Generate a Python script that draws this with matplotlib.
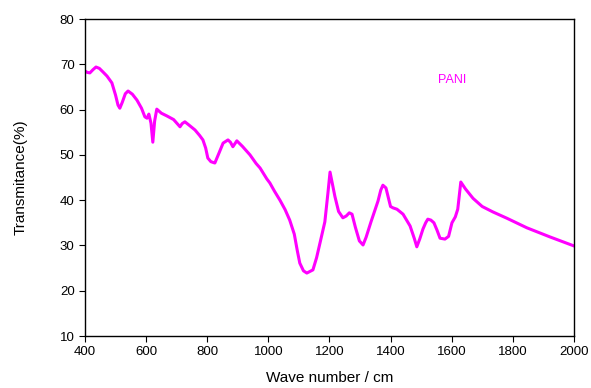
import matplotlib.pyplot as plt
import numpy as np

plt.rcParams['font.family'] = ['Liberation Sans', 'DejaVu Sans']

# PANI FTIR spectrum
wavenumber = [400, 408, 416, 426, 436, 447, 459, 472, 488, 500, 508, 514, 522,
              532, 541, 555, 570, 585, 596, 603, 609, 616, 622, 628, 635, 650,
              668, 690, 711, 718, 727, 740, 760, 775, 786, 795, 802, 812, 825,
              838, 852, 868, 876, 884, 897, 915, 940, 960, 973, 995, 1005, 1020,
              1038, 1055, 1070, 1085, 1095, 1103, 1115, 1126, 1146, 1158, 1169,
              1185, 1195, 1202, 1210, 1218, 1230, 1244, 1255, 1265, 1274, 1285,
              1298, 1310, 1320, 1336, 1359, 1368, 1375, 1385, 1393, 1400, 1408,
              1421, 1441, 1464, 1478, 1486, 1496, 1506, 1515, 1522, 1532, 1542,
              1552, 1562, 1578, 1590, 1601, 1612, 1620, 1630, 1645, 1670, 1700,
              1735, 1781, 1846, 1921, 2000]
transmittance = [68.5, 68.2, 68.1, 68.8, 69.4, 69.1, 68.3, 67.4, 65.9, 63.2,
                 61.0, 60.3, 61.6, 63.5, 64.1, 63.4, 62.1, 60.3, 58.4, 58.1,
                 59.0, 57.0, 52.8, 57.5, 60.1, 59.2, 58.6, 57.8, 56.2, 56.9,
                 57.3, 56.6, 55.5, 54.3, 53.3, 51.5, 49.3, 48.5, 48.2, 50.3,
                 52.6, 53.3, 52.8, 51.8, 53.1, 51.9, 50.0, 48.1, 47.1, 44.7,
                 43.8, 42.0, 40.0, 37.9, 35.6, 32.5, 28.8, 26.1, 24.4, 23.9,
                 24.6, 27.3, 30.5, 35.2, 41.5, 46.2, 43.5, 40.8, 37.5, 36.1,
                 36.5, 37.2, 36.9, 34.0, 31.0, 30.1, 31.8, 35.2, 39.8, 42.2,
                 43.3, 42.7, 40.5, 38.6, 38.3, 38.0, 36.9, 34.3, 31.5, 29.7,
                 31.5, 33.6, 35.0, 35.8, 35.6, 35.0, 33.4, 31.6, 31.4, 32.0,
                 35.0, 36.3, 38.0, 44.0, 42.5, 40.4, 38.6, 37.4, 36.0, 33.9,
                 31.9, 29.9]

fig = plt.figure(figsize=(5.91, 3.88), dpi=100)
ax = fig.add_axes([0.1438, 0.134, 0.8272, 0.817])

ax.plot(wavenumber, transmittance, color='#ff00ff', lw=2.2, solid_joinstyle='round')
ax.text(1600, 66.5, 'PANI', color='#ff00ff', fontsize=9, ha='center', va='center')

ax.set_xlim(400, 2000)
ax.set_ylim(10, 80)
ax.set_xticks(np.arange(400, 2001, 200))
ax.set_yticks(np.arange(10, 81, 10))
ax.tick_params(direction='out', length=4, width=0.8, labelsize=9.5, top=False, right=False)
for s in ax.spines.values():
    s.set_linewidth(1.0)

ax.set_xlabel('Wave number / cm', fontsize=11, labelpad=9)
ax.set_ylabel('Transmitance(%)', fontsize=11, labelpad=23)

fig.savefig('out.png', dpi=100)
